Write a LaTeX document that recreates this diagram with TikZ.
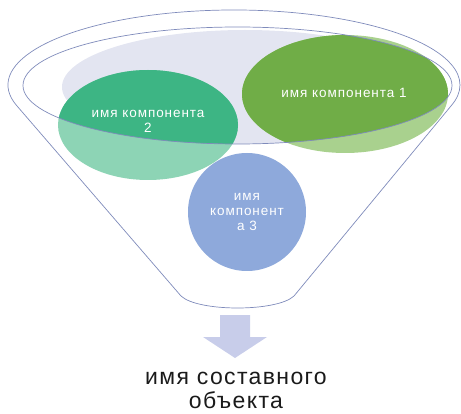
\documentclass[tikz,border=0pt]{standalone}
\usepackage{fontspec}
\setmainfont{Liberation Sans}
\definecolor{rim}{HTML}{7F8BBB}
\definecolor{lav}{HTML}{E3E5F1}
\definecolor{gOne}{HTML}{70AD47}
\definecolor{gOneL}{HTML}{A9D18E}
\definecolor{gTwo}{HTML}{3DB584}
\definecolor{gTwoL}{HTML}{8DD4B5}
\definecolor{bThree}{HTML}{8EA9DB}
\definecolor{arr}{HTML}{C8CDEA}
\definecolor{ink}{HTML}{1A1A1A}
\begin{document}
\begin{tikzpicture}[x=1pt,y=1pt,
  rimline/.style={draw=rim,line width=0.7pt},
  smalltext/.style={text=white,align=center,inner sep=0pt,
    font=\fontsize{13.5}{15}\selectfont\addfontfeatures{LetterSpace=7}},
  bigtext/.style={text=ink,inner sep=0pt,align=center,
    font=\fontsize{23}{23.5}\selectfont\addfontfeatures{LetterSpace=6}}]
\useasboundingbox (0,0) rectangle (461,413);
\coordinate (ic) at (237.5,327.5);
% lavender top inside the inner rim
\begin{scope}
  \clip (ic) ellipse [x radius=214.5, y radius=58.5];
  \fill[lav] (245,326) ellipse [x radius=183, y radius=57];
\end{scope}
% light parts of the green ellipses (outside the rim)
\fill[gTwoL] (148,288) ellipse [x radius=90, y radius=55];
\fill[gOneL] (345,319) ellipse [x radius=103, y radius=59];
% dark parts (inside the rim)
\begin{scope}
  \clip (ic) ellipse [x radius=214.5, y radius=58.5];
  \fill[gTwo] (148,288) ellipse [x radius=90, y radius=55];
  \fill[gOne] (345,319) ellipse [x radius=103, y radius=59];
\end{scope}
% blue circle
\fill[bThree] (247,201) circle [radius=59];
% inner rim
\draw[rimline] (ic) ellipse [x radius=214.5, y radius=58.5];
% funnel outline
\coordinate (lt) at (16.75,307.33);
\coordinate (rb) at (294,117);
\coordinate (lb) at (181,117);
\draw[rimline] (lt) arc [start angle=196, end angle=-16, x radius=226, y radius=75]
  -- (rb) .. controls (277,101) and (198,101) .. (lb) -- cycle;
% arrow
\fill[arr] (220,98) -- (250,98) -- (250,76) -- (267,76) -- (235,55) -- (203,76) -- (220,76) -- cycle;
% texts
\node[smalltext] (t1) at (344,320) {имя компонента 1};
\node[smalltext] (t2) at (148,292) {имя компонента\\2};
\node[smalltext] (t3) at (247,201) {имя\\компонент\\а 3};
\node[bigtext,anchor=base] (t4) at (236,5) {имя составного\\объекта};
\end{tikzpicture}
\end{document}
